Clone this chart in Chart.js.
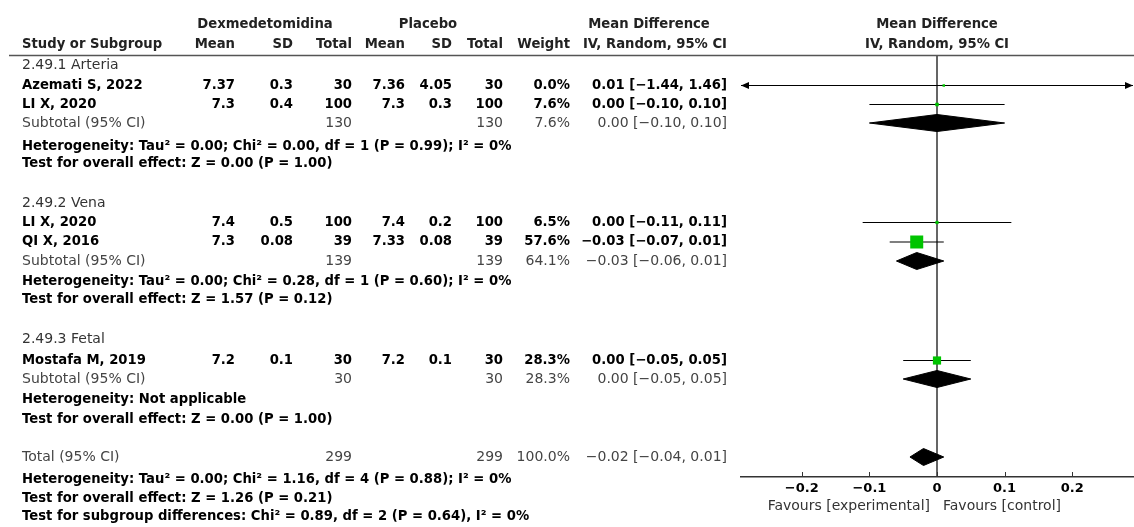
<!DOCTYPE html>
<html>
<head>
<meta charset="utf-8">
<script src="https://cdn.jsdelivr.net/npm/chart.js@4.4.1/dist/chart.umd.min.js"></script>
<style>
  html, body { margin: 0; padding: 0; background: #fff; }
  #wrap { width: 1134px; height: 527px; }
</style>
</head>
<body>
<div id="wrap"><canvas id="forest" width="1134" height="527"></canvas></div>
<script>
// Study level data
const studies = ['Azemati S, 2022', 'LI X, 2020', 'LI X, 2020', 'QI X, 2016', 'Mostafa M, 2019'];
const expMean = [7.37, 7.3, 7.4, 7.3, 7.2];
const expSD = [0.3, 0.4, 0.5, 0.08, 0.1];
const expTotal = [30, 100, 100, 39, 30];
const plaMean = [7.36, 7.3, 7.4, 7.33, 7.2];
const plaSD = [4.05, 0.3, 0.2, 0.08, 0.1];
const plaTotal = [30, 100, 100, 39, 30];
const weight = [0.0, 7.6, 6.5, 57.6, 28.3];
const meanDiff = [0.01, 0.00, 0.00, -0.03, 0.00];
const ciLow = [-1.44, -0.10, -0.11, -0.07, -0.05];
const ciHigh = [1.46, 0.10, 0.11, 0.01, 0.05];

// Subgroups
const groups = ['2.49.1 Arteria', '2.49.2 Vena', '2.49.3 Fetal'];
const subExpTotal = [130, 139, 30];
const subPlaTotal = [130, 139, 30];
const subWeight = [7.6, 64.1, 28.3];
const subMeanDiff = [0.00, -0.03, 0.00];
const subLow = [-0.10, -0.06, -0.05];
const subHigh = [0.10, 0.01, 0.05];
const subHet = [
  'Heterogeneity: Tau² = 0.00; Chi² = 0.00, df = 1 (P = 0.99); I² = 0%',
  'Heterogeneity: Tau² = 0.00; Chi² = 0.28, df = 1 (P = 0.60); I² = 0%',
  'Heterogeneity: Not applicable'
];
const subEffect = [
  'Test for overall effect: Z = 0.00 (P = 1.00)',
  'Test for overall effect: Z = 1.57 (P = 0.12)',
  'Test for overall effect: Z = 0.00 (P = 1.00)'
];

// Overall
const totalExp = 299;
const totalPla = 299;
const totalWeight = 100.0;
const totalMeanDiff = -0.02;
const totalLow = -0.04;
const totalHigh = 0.01;
const totalNotes = [
  'Heterogeneity: Tau² = 0.00; Chi² = 1.16, df = 4 (P = 0.88); I² = 0%',
  'Test for overall effect: Z = 1.26 (P = 0.21)',
  'Test for subgroup differences: Chi² = 0.89, df = 2 (P = 0.64), I² = 0%'
];

const tickValues = [-0.2, -0.1, 0, 0.1, 0.2];

// Row layout (vertical positions, same units as the y scale)
const studyRow = [85.5, 104.5, 222.5, 242, 360.5];
const groupRow = [65, 203, 339];
const subRow = [123, 261, 379];
const hetRow = [147, 282, 400];
const effectRow = [164, 300, 420];
const totalRow = 457;
const totalNoteRow = [480, 499, 517];

const GREEN = '#00c400';
const FONT = '"DejaVu Sans", sans-serif';

function fmt(v) {
  const s = Math.abs(v).toFixed(2);
  return (v < 0 ? '\u2212' : '') + s;
}
function ciText(m, lo, hi) {
  return `${fmt(m)} [${fmt(lo)}, ${fmt(hi)}]`;
}

// CI whiskers, broken with null points
const whiskers = [];
studies.forEach((s, i) => {
  whiskers.push({ x: ciLow[i], y: studyRow[i] }, { x: ciHigh[i], y: studyRow[i] }, { x: null, y: null });
});

// square size grows with weight
const squareRadius = weight.map(w => Math.max(2.5, 13 * Math.pow(w / 57.6, 0.65)) / Math.SQRT2);

function diamond(m, lo, hi, y) {
  return {
    type: 'line',
    data: [{ x: lo, y }, { x: m, y: y - 8.5 }, { x: hi, y }, { x: m, y: y + 8.5 }, { x: lo, y }],
    borderColor: '#000',
    backgroundColor: '#000',
    borderWidth: 1,
    pointRadius: 0,
    fill: 'shape',
    tension: 0,
    order: 1
  };
}

const diamonds = groups.map((g, i) => diamond(subMeanDiff[i], subLow[i], subHigh[i], subRow[i]));
diamonds.push(diamond(totalMeanDiff, totalLow, totalHigh, totalRow));

// Text table, ticks, arrows and labels
const tablePlugin = {
  id: 'table',
  afterDraw(chart) {
    const { ctx, chartArea, scales } = chart;
    const x = scales.x, y = scales.y;
    const py = v => y.getPixelForValue(v);
    ctx.save();
    ctx.textBaseline = 'middle';

    function txt(t, px, row, align, bold, color) {
      ctx.font = bold ? `bold 13.2px ${FONT}` : `14px ${FONT}`;
      ctx.fillStyle = color || '#000';
      ctx.textAlign = align;
      ctx.fillText(t, px, py(row));
    }

    const col = { label: 22, em: 235, esd: 293, et: 352, pm: 405, psd: 452, pt: 503, w: 570, ci: 727 };
    const HEAD = '#222';

    // header
    txt('Dexmedetomidina', 265, 25, 'center', true, HEAD);
    txt('Placebo', 428, 25, 'center', true, HEAD);
    txt('Mean Difference', 649, 25, 'center', true, HEAD);
    txt('Mean Difference', 937, 25, 'center', true, HEAD);
    txt('Study or Subgroup', col.label, 45, 'left', true, HEAD);
    txt('Mean', col.em, 45, 'right', true, HEAD);
    txt('SD', col.esd, 45, 'right', true, HEAD);
    txt('Total', col.et, 45, 'right', true, HEAD);
    txt('Mean', col.pm, 45, 'right', true, HEAD);
    txt('SD', col.psd, 45, 'right', true, HEAD);
    txt('Total', col.pt, 45, 'right', true, HEAD);
    txt('Weight', col.w, 45, 'right', true, HEAD);
    txt('IV, Random, 95% CI', col.ci, 45, 'right', true, HEAD);
    txt('IV, Random, 95% CI', 937, 45, 'center', true, HEAD);

    ctx.strokeStyle = '#555';
    ctx.lineWidth = 1.5;
    ctx.beginPath();
    ctx.moveTo(9, py(55.5));
    ctx.lineTo(1134, py(55.5));
    ctx.stroke();

    // studies
    studies.forEach((s, i) => {
      const r = studyRow[i];
      txt(s, col.label, r, 'left', true);
      txt(String(expMean[i]), col.em, r, 'right', true);
      txt(String(expSD[i]), col.esd, r, 'right', true);
      txt(String(expTotal[i]), col.et, r, 'right', true);
      txt(String(plaMean[i]), col.pm, r, 'right', true);
      txt(String(plaSD[i]), col.psd, r, 'right', true);
      txt(String(plaTotal[i]), col.pt, r, 'right', true);
      txt(weight[i].toFixed(1) + '%', col.w, r, 'right', true);
      txt(ciText(meanDiff[i], ciLow[i], ciHigh[i]), col.ci, r, 'right', true);
    });

    // subgroups
    groups.forEach((g, i) => {
      txt(g, col.label, groupRow[i], 'left', false, '#333');
      const r = subRow[i];
      txt('Subtotal (95% CI)', col.label, r, 'left', false, '#444');
      txt(String(subExpTotal[i]), col.et, r, 'right', false, '#444');
      txt(String(subPlaTotal[i]), col.pt, r, 'right', false, '#444');
      txt(subWeight[i].toFixed(1) + '%', col.w, r, 'right', false, '#444');
      txt(ciText(subMeanDiff[i], subLow[i], subHigh[i]), col.ci, r, 'right', false, '#444');
      txt(subHet[i], col.label, hetRow[i], 'left', true);
      txt(subEffect[i], col.label, effectRow[i], 'left', true);
    });

    // total
    txt('Total (95% CI)', col.label, totalRow, 'left', false, '#444');
    txt(String(totalExp), col.et, totalRow, 'right', false, '#444');
    txt(String(totalPla), col.pt, totalRow, 'right', false, '#444');
    txt(totalWeight.toFixed(1) + '%', col.w, totalRow, 'right', false, '#444');
    txt(ciText(totalMeanDiff, totalLow, totalHigh), col.ci, totalRow, 'right', false, '#444');
    totalNotes.forEach((t, i) => txt(t, col.label, totalNoteRow[i], 'left', true));

    // upward ticks on the axis
    ctx.strokeStyle = '#333';
    ctx.lineWidth = 1;
    x.ticks.forEach(t => {
      const px = Math.round(x.getPixelForValue(t.value)) + 0.5;
      ctx.beginPath();
      ctx.moveTo(px, chartArea.bottom);
      ctx.lineTo(px, chartArea.bottom - 5);
      ctx.stroke();
    });

    // arrows for intervals running off the axis
    ctx.fillStyle = '#000';
    studies.forEach((s, i) => {
      const yy = py(studyRow[i]);
      if (ciLow[i] < x.min) {
        const l = chartArea.left;
        ctx.beginPath();
        ctx.moveTo(l, yy); ctx.lineTo(l + 8, yy - 3.5); ctx.lineTo(l + 8, yy + 3.5);
        ctx.closePath(); ctx.fill();
      }
      if (ciHigh[i] > x.max) {
        const r = chartArea.right;
        ctx.beginPath();
        ctx.moveTo(r, yy); ctx.lineTo(r - 8, yy - 3.5); ctx.lineTo(r - 8, yy + 3.5);
        ctx.closePath(); ctx.fill();
      }
    });

    // favours labels
    const zero = x.getPixelForValue(0);
    txt('Favours [experimental]', zero - 7, 506, 'right', false, '#333');
    txt('Favours [control]', zero + 6, 506, 'left', false, '#333');

    ctx.restore();
  }
};

new Chart(document.getElementById('forest'), {
  data: {
    datasets: [
      {
        type: 'line',
        data: [{ x: 0, y: 56 }, { x: 0, y: 477 }],
        borderColor: '#333',
        borderWidth: 1.5,
        pointRadius: 0,
        order: 3
      },
      {
        type: 'line',
        data: whiskers,
        borderColor: '#000',
        borderWidth: 1.2,
        pointRadius: 0,
        spanGaps: false,
        order: 2
      },
      {
        type: 'scatter',
        data: studies.map((s, i) => ({ x: meanDiff[i], y: studyRow[i] })),
        pointStyle: 'rect',
        pointRadius: squareRadius,
        pointHoverRadius: squareRadius,
        backgroundColor: GREEN,
        borderWidth: 0,
        order: 0
      },
      ...diamonds
    ]
  },
  options: {
    responsive: false,
    animation: false,
    events: [],
    layout: { autoPadding: false, padding: { left: 741, right: 1, top: 56, bottom: 20 } },
    plugins: { legend: { display: false }, tooltip: { enabled: false } },
    scales: {
      x: {
        type: 'linear',
        min: -0.29,
        max: 0.29,
        grid: { display: false, drawTicks: false },
        border: { display: true, color: '#333', width: 1.5 },
        afterBuildTicks(scale) {
          scale.ticks = tickValues.map(v => ({ value: v }));
        },
        afterFit(scale) { scale.height = 30; },
        ticks: {
          padding: 4,
          color: '#000',
          font: { family: FONT, size: 13, weight: 'bold' },
          callback: v => (v === 0 ? '0' : (v < 0 ? '\u2212' : '') + Math.abs(v).toFixed(1))
        }
      },
      y: {
        type: 'linear',
        display: false,
        min: 56,
        max: 477,
        reverse: true
      }
    }
  },
  plugins: [tablePlugin]
});
</script>
</body>
</html>
